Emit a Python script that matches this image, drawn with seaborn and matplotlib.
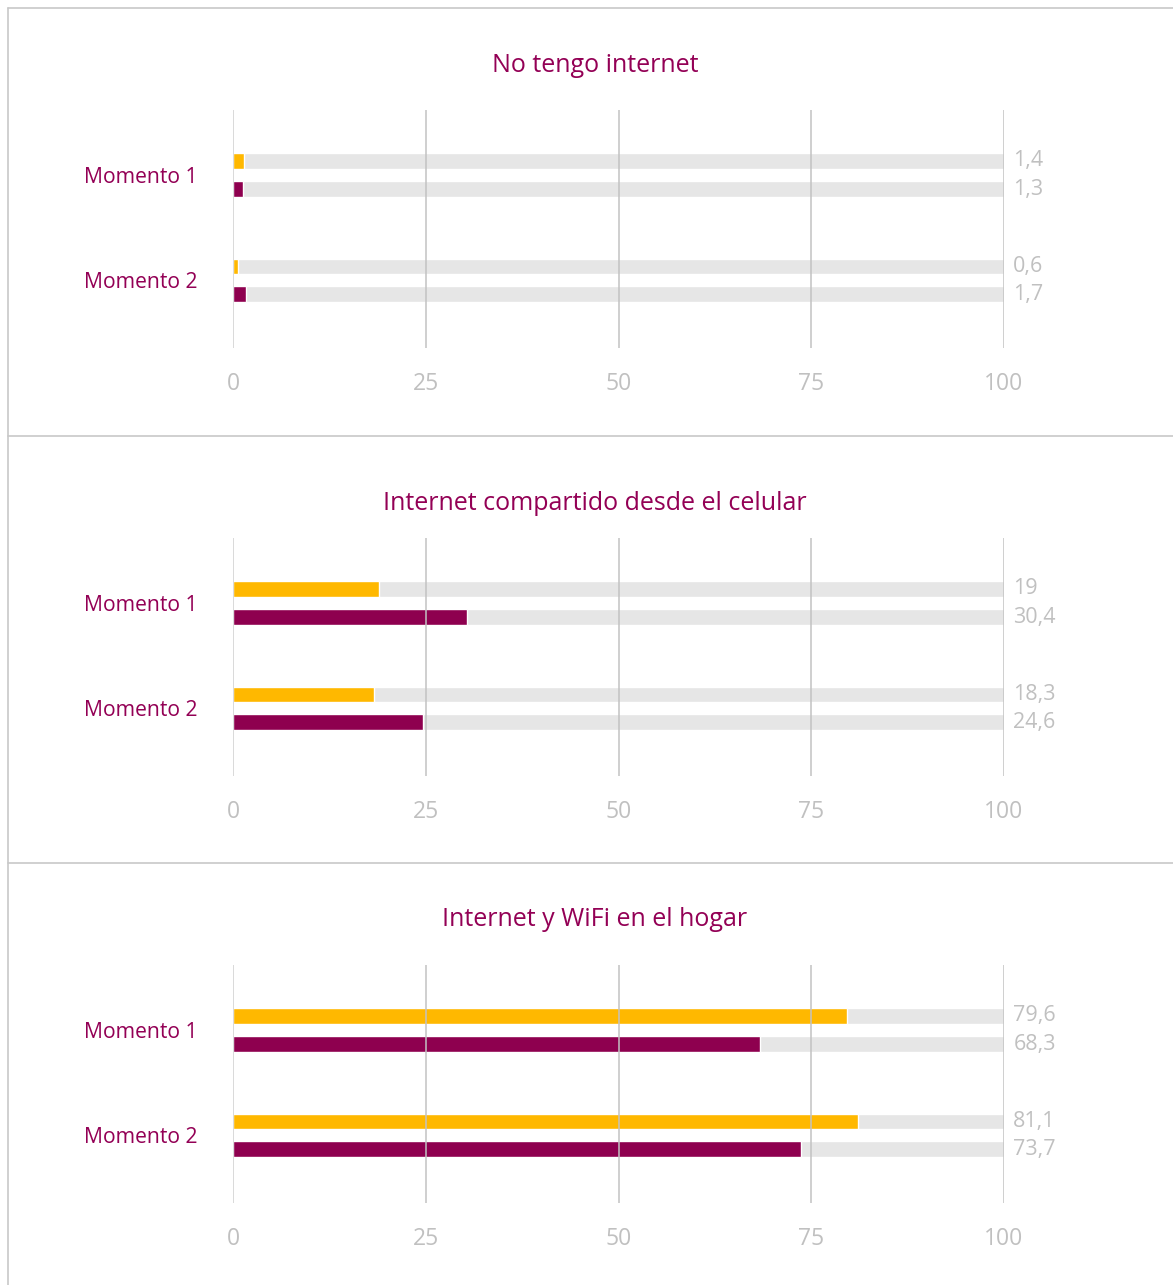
import matplotlib
matplotlib.use("Agg")
import matplotlib.pyplot as plt
from matplotlib.lines import Line2D
import matplotlib.transforms as mtransforms
import seaborn as sns
import pandas as pd

# --- data -------------------------------------------------------------
titles = ["No tengo internet",
          "Internet compartido desde el celular",
          "Internet y WiFi en el hogar"]
momentos = ["Momento 1", "Momento 2"]
series = ["Serie A", "Serie B"]
serie_a = [[1.4, 0.6], [19.0, 18.3], [79.6, 81.1]]
serie_b = [[1.3, 1.7], [30.4, 24.6], [68.3, 73.7]]
ticks = [0, 25, 50, 75, 100]
max_value = 100

# --- style ------------------------------------------------------------
sns.set_theme(style="white")
plt.rcParams["font.family"] = ["Open Sans", "DejaVu Sans"]

YELLOW = "#FFB800"
PURPLE = "#8E004F"
TEXT_PURPLE = "#930055"
TRACK = "#E6E6E6"
GRID = "#C2C2C2"
LIGHT = "#C0C0C0"
BORDER = "#C8C8C8"

W, H = 1173, 1285
fig = plt.figure(figsize=(W / 100, H / 100), dpi=100)

def fx(px):
    return px / W

def fy(py):
    return 1 - py / H

# panel frames
panel_tops = [8, 436, 863]
fig.add_artist(Line2D([fx(8), fx(8)], [fy(8), fy(H)], color=BORDER, lw=1.2))
for top in panel_tops:
    fig.add_artist(Line2D([fx(8), 1], [fy(top), fy(top)], color=BORDER, lw=1.2))

ax_left, ax_right = 233, 1004
grid_tops = [110, 538, 965]
grid_h = 238
title_y = [65, 504, 920]

for i in range(3):
    top = grid_tops[i]
    ax = fig.add_axes([fx(ax_left), fy(top + grid_h), fx(ax_right) - fx(ax_left), grid_h / H])

    df = pd.DataFrame({
        "momento": momentos * 2,
        "serie": [series[0]] * 2 + [series[1]] * 2,
        "valor": serie_a[i] + serie_b[i],
    })
    track = df.assign(valor=max_value)

    # gray tracks behind the coloured bars
    sns.barplot(data=track, y="momento", x="valor", hue="serie", orient="h",
                palette=[TRACK, TRACK], width=0.53, gap=0.43, dodge=True,
                legend=False, ax=ax, errorbar=None, saturation=1, zorder=1)
    sns.barplot(data=df, y="momento", x="valor", hue="serie", orient="h",
                palette=[YELLOW, PURPLE], width=0.53, gap=0.43, dodge=True,
                legend=False, ax=ax, errorbar=None, saturation=1, zorder=2)

    ax.set_xlim(0, max_value)
    ax.set_ylim(1.64, -0.616)
    for s in ax.spines.values():
        s.set_visible(False)

    # vertical reference lines drawn on top of the bars
    for t in ticks:
        ax.axvline(t, color="#D0D0D0" if t == 0 else GRID, lw=1.1, zorder=3)

    ax.set_xticks(ticks)
    ax.set_xticklabels([str(t) for t in ticks], fontsize=16.5, color=LIGHT)
    ax.tick_params(axis="x", length=0, pad=17)
    ax.set_yticks([])
    ax.set_xlabel("")
    ax.set_ylabel("")

    # category names at the left
    trans = mtransforms.blended_transform_factory(fig.transFigure, ax.transData)
    for k, m in enumerate(momentos):
        ax.text(fx(84), k + 0.02, m, transform=trans, ha="left", va="center",
                fontsize=15.2, color=TEXT_PURPLE)

    # value labels to the right of each track
    offs = [-0.133, 0.133]
    for k in range(2):
        for j, vals in enumerate([serie_a[i], serie_b[i]]):
            lbl = f"{vals[k]:g}".replace(".", ",")
            ax.text(max_value + 1.2, k + offs[j], lbl, ha="left", va="center",
                    fontsize=15.5, color=LIGHT, clip_on=False)

    fig.text(fx(595), fy(title_y[i]), titles[i], ha="center", va="center",
             fontsize=18, color=TEXT_PURPLE)

fig.savefig("out.png", dpi=100, facecolor="white")
